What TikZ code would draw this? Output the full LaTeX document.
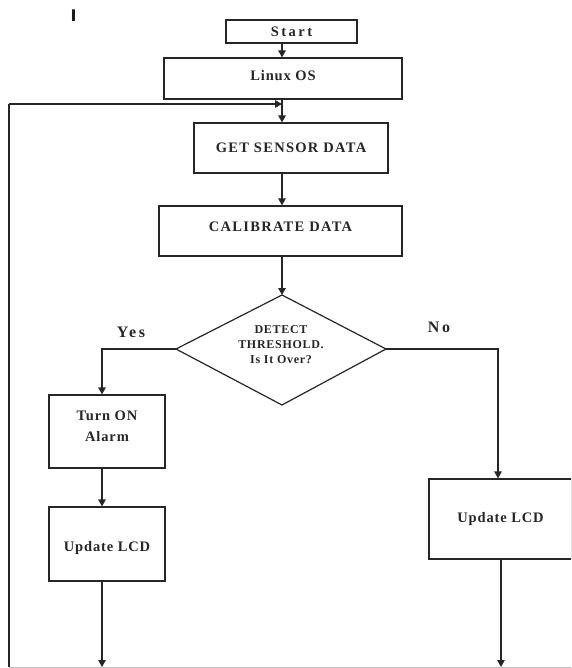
\documentclass[tikz,border=0pt]{standalone}
\usepackage{fontspec}
\setmainfont{Liberation Serif}
\newfontfamily\fmain[LetterSpace=6]{Liberation Serif}
\newfontfamily\fwide[LetterSpace=9]{Liberation Serif}
\newfontfamily\fdia[LetterSpace=6]{Liberation Serif}
\newfontfamily\fstart[LetterSpace=17]{Liberation Serif}
\newfontfamily\fyn[LetterSpace=16]{Liberation Serif}
\newfontfamily\fmark{DejaVu Sans}
\usetikzlibrary{arrows.meta}
\begin{document}
\begin{tikzpicture}[x=1pt,y=-1pt,
  line/.style={draw=black!85, line width=1.2pt},
  arr/.style={line, -{Triangle[width=7.5pt,length=7pt]}},
  box/.style={draw=black!85, line width=1.2pt, rectangle, inner sep=0pt, text=black!85, text height=9.6pt},
  txt13/.style={font={\fmain\bfseries\fontsize{14.5}{21}\selectfont}},
  txtwide/.style={font={\fwide\bfseries\fontsize{14.5}{15}\selectfont}},
  lbl/.style={text=black!85, inner sep=0pt, font={\fyn\bfseries\fontsize{16}{17}\selectfont}}
]
\fill[white] (0,0) rectangle (571,668);
\clip (0,0) rectangle (571,668);
\node[text=black!90, inner sep=0pt, font={\fmark\bfseries\fontsize{16}{16}\selectfont}] (mark) at (73.5,16) {I};

\coordinate (cx) at (282,0);
\coordinate (lx) at (102,0);
\coordinate (rx) at (498,0);
\coordinate (rx2) at (501,0);
\coordinate (join) at (282,104);
\coordinate (lt) at (9,104);
\coordinate (lb) at (9,667);
\coordinate (rb) at (571,667);

\node[box, text depth=0pt, minimum width=131pt, minimum height=23pt, font={\fstart\bfseries\fontsize{14.5}{16}\selectfont}] (start) at (291.5,31.5) {Start};
\node[box, txt13, text depth=5pt, minimum width=238pt, minimum height=41pt] (linux) at (283,78.5) {Linux OS};
\node[box, txtwide, text depth=1pt, minimum width=194pt, minimum height=50pt] (sensor) at (291,148) {GET SENSOR DATA};
\node[box, txtwide, text depth=8pt, minimum width=243pt, minimum height=50pt] (calib) at (280.5,231) {CALIBRATE DATA};

% decision diamond
\coordinate (dn) at (282,295);
\coordinate (dw) at (176,349);
\coordinate (de) at (386,349);
\coordinate (ds) at (282,405);
\draw[line, line join=miter] (dn) -- (de) -- (ds) -- (dw) -- cycle;
\node[inner sep=0pt, text=black!85, align=center,
      font={\fdia\bfseries\fontsize{12}{15}\selectfont}] (dec) at (281,345)
      {DETECT\\THRESHOLD.\\Is It Over?};

\node[box, txt13, align=center, text height=19pt, text depth=0pt, minimum width=116pt, minimum height=73pt] (alarm) at (107,431.5) {Turn ON\\Alarm};
\node[box, txt13, text height=14.6pt, text depth=0pt, minimum width=116pt, minimum height=74pt] (lcdL) at (107,544) {Update LCD};
\node[box, txt13, text depth=3pt, minimum width=143pt, minimum height=80pt] (lcdR) at (500.5,519) {Update LCD};

\node[lbl] (yes) at (131,332) {Yes};
\node[lbl] (no) at (439,327) {No};

\draw[arr] (start.south -| cx) -- (linux.north -| cx);
\draw[arr] (linux.south -| cx) -- (sensor.north -| cx);
\draw[line] (lb) -- (lt);
\draw[arr] (lt) -- (join);
\draw[arr] (sensor.south -| cx) -- (calib.north -| cx);
\draw[arr] (calib.south -| cx) -- (dn);
\draw[arr] (dw) -| (alarm.north -| lx);
\draw[arr] (alarm.south -| lx) -- (lcdL.north -| lx);
\draw[arr] (lcdL.south -| lx) -- (lx |- lb);
\draw[arr] (de) -| (lcdR.north -| rx);
\draw[arr] (lcdR.south -| rx2) -- (rx2 |- lb);
\draw[draw=black!25, line width=0.8pt] (lb) -- (rb);
\end{tikzpicture}
\end{document}
